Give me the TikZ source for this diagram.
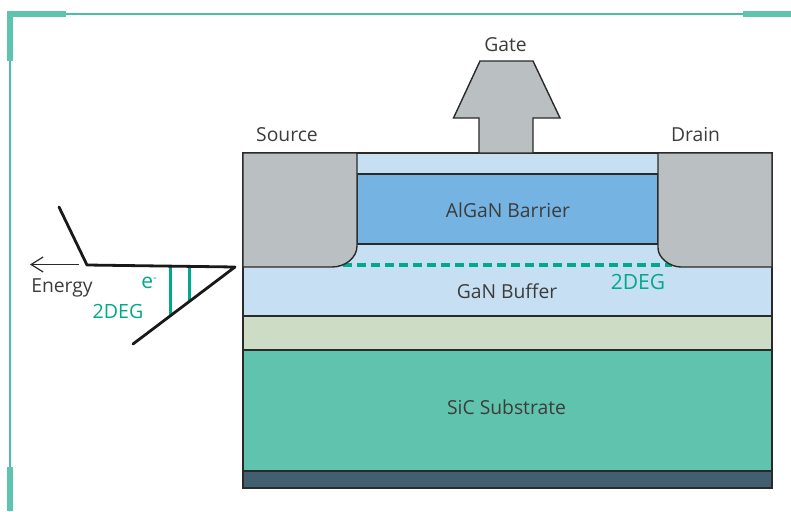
\documentclass[tikz,border=0pt]{standalone}
\usepackage{fontspec}
\setmainfont{Open Sans}
\usetikzlibrary{arrows.meta}
\definecolor{frameC}{HTML}{5FC4AE}
\definecolor{frameL}{HTML}{4CBFA6}
\definecolor{capC}{HTML}{C7DFF3}
\definecolor{barrierC}{HTML}{74B3E2}
\definecolor{nuclC}{HTML}{CDDCC5}
\definecolor{subC}{HTML}{60C3AD}
\definecolor{backC}{HTML}{415F6E}
\definecolor{metalC}{HTML}{BABFC1}
\definecolor{tealC}{HTML}{00A98C}
\definecolor{inkC}{HTML}{3C3C3B}
\definecolor{lineC}{HTML}{2A2A2A}
\tikzset{
  framethin/.style={draw=frameL,line width=2.2pt},
  framethick/.style={fill=frameC,draw=none},
  layer/.style={draw=lineC,line width=1.4pt},
  band/.style={draw=black!90,line width=2.8pt,line cap=round,line join=round},
  level/.style={draw=tealC,line width=3pt},
  lbl/.style={font=\fontsize{19.3}{22}\selectfont,text=inkC,inner sep=0pt},
  tlbl/.style={font=\fontsize{19.6}{22}\selectfont,text=tealC,inner sep=0pt}
}
\begin{document}
\begin{tikzpicture}[x=1pt,y=-1pt]
\useasboundingbox (0,0) rectangle (791,511);
% frame
\draw[framethin] (66,14) -- (743,14);
\draw[framethin] (10,61) -- (10,467);
\fill[framethick] (7,11) rectangle (66,17);
\fill[framethick] (7,11) rectangle (13,61);
\fill[framethick] (7,467) rectangle (13,511);
\fill[framethick] (743,11) rectangle (791,17);
% layers
\draw[layer,fill=capC] (243,153) rectangle (772,244);
\draw[layer,fill=barrierC] (357,174) rectangle (658,244);
\draw[layer,fill=capC] (243,244) rectangle (772,316);
\draw[layer,fill=nuclC] (243,316) rectangle (772,350);
\draw[layer,fill=subC] (243,350) rectangle (772,471);
\draw[layer,fill=backC] (243,471) rectangle (772,488);
% 2DEG channel
\draw[draw=tealC,line width=3.2pt,dash pattern=on 9pt off 5pt] (343,265) -- (672,265);
% contacts
\draw[layer,fill=metalC] (243,153) -- (357,153) -- (357,246) .. controls (357,258) and (345,267) .. (332,267) -- (243,267) -- cycle;
\draw[layer,fill=metalC] (772,153) -- (658,153) -- (658,248) .. controls (658,258) and (670,267) .. (681,267) -- (772,267) -- cycle;
% gate
\draw[layer,fill=metalC] (480,61) -- (533,61) -- (560,118) -- (533,118) -- (533,153) -- (479,153) -- (479,118) -- (453.5,118) -- cycle;
% band diagram
\draw[level] (170,267) -- (170,315);
\draw[level] (189,267) -- (189,301);
\draw[band] (59,207) -- (87,265) -- (235,267) -- (133,344);
\coordinate (arrowstart) at (79,264.5);
\coordinate (arrowend) at (30,264.5);
\draw[draw=lineC,line width=1.2pt,-{Straight Barb[length=12pt,width=15pt]}] (arrowstart) -- (arrowend);
% labels
\node[lbl] (gate) at (505.5,45) {Gate};
\node[lbl] (source) at (287,135) {Source};
\node[lbl] (drain) at (695.5,135) {Drain};
\node[lbl] (barrier) at (508,210) {AlGaN Barrier};
\node[lbl] (buffer) at (507,291) {GaN Buffer};
\node[lbl] (sic) at (506.5,407) {SiC Substrate};
\node[lbl] (energy) at (62,287.5) {Energy};
\node[tlbl] (deg) at (118,311) {2DEG};
\node[tlbl,font=\fontsize{21}{22}\selectfont] (ele) at (149,283) {e\raisebox{7pt}{\fontsize{11}{11}\selectfont -}};
\node[tlbl,font=\fontsize{21}{22}\selectfont] (degb) at (638,282) {2DEG};
\end{tikzpicture}
\end{document}
